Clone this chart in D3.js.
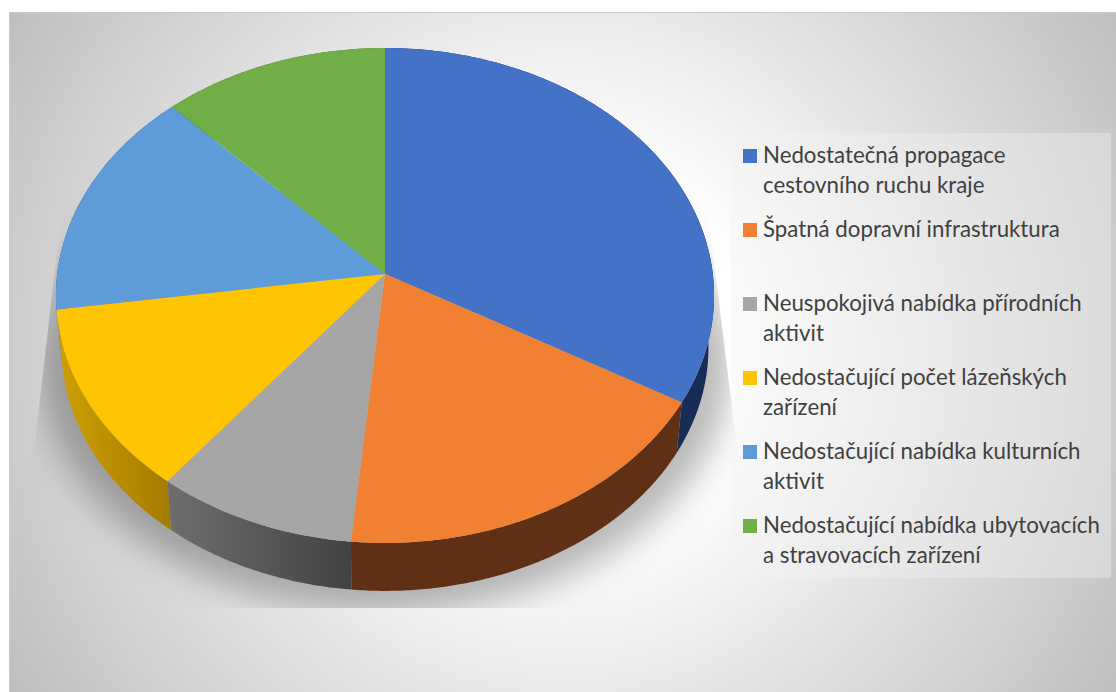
<!DOCTYPE html>
<html>
<head>
<meta charset="utf-8">
<script src="https://cdn.jsdelivr.net/npm/d3@7"></script>
<style>
    html, body { margin: 0; padding: 0; background: #fff; overflow: hidden; }
</style>
</head>
<body>
<div id="chart"></div>
<script>
const categories = [
    ["Nedostatečná propagace", "cestovního ruchu kraje"],
    ["Špatná dopravní infrastruktura"],
    ["Neuspokojivá nabídka přírodních", "aktivit"],
    ["Nedostačující počet lázeňských", "zařízení"],
    ["Nedostačující nabídka kulturních", "aktivit"],
    ["Nedostačující nabídka ubytovacích", "a stravovacích zařízení"]
];
const values = [11, 6, 3, 4, 5, 4];
const topColors = ["#4472c6", "#f28032", "#a6a6a6", "#ffc402", "#5d9cd8", "#72ae48"];
const sideColors = [
    ["#172d55", "#172d55"],
    ["#5f3013", "#5f3013"],
    ["#6e6e6e", "#424242"],
    ["#cfa002", "#a67c00"],
    ["#2c5c88", "#2c5c88"],
    ["#44692b", "#44692b"]
];
// back walls first so the front ones stay on top
const sideOrder = [5, 4, 0, 3, 2, 1];

const width = 1116, height = 692;

const svg = d3.select("#chart")
    .append("svg")
    .attr("width", width)
    .attr("height", height)
    .style("display", "block");

const defs = svg.append("defs");

const bg = defs.append("radialGradient")
    .attr("id", "bg")
    .attr("gradientUnits", "userSpaceOnUse")
    .attr("cx", 565).attr("cy", 350).attr("r", 650);
bg.append("stop").attr("offset", 0.28).attr("stop-color", "#fff");
bg.append("stop").attr("offset", 1).attr("stop-color", "#bfbfbf");

defs.append("filter")
    .attr("id", "blur")
    .attr("filterUnits", "userSpaceOnUse")
    .attr("x", 0).attr("y", 0).attr("width", width).attr("height", height)
    .append("feGaussianBlur")
    .attr("stdDeviation", 17);

// the shadow picture has slanted sides and a hard lower edge
defs.append("clipPath")
    .attr("id", "shadowClip")
    .append("polygon")
    .attr("points", "64,190 705,190 757,608 16,608");

// panel
svg.append("rect")
    .attr("x", 9.5)
    .attr("y", 12.5)
    .attr("width", width)
    .attr("height", height)
    .attr("fill", "url(#bg)")
    .attr("stroke", "#c8c8c8");

// perspective of the tilted disc, disc centre sits above the ellipse centre
const cx = 385, cy = 274, depth = 52.5, shrink = 0.983;
const a = 327.8, b = 245.6, k = 0.0869;

function project(angle, lower) {
    const u = Math.sin(angle), v = -Math.cos(angle);
    const w = 1 - k * v;
    const s = lower ? shrink : 1;
    return [cx + s * a * u / w, cy + (lower ? depth : 0) + s * b * v / w];
}

const line = d3.line();
const arcAngles = d => d3.range(d.startAngle, d.endAngle, Math.PI / 360).concat([d.endAngle]);

const pie = d3.pie().sort(null).value(d => d);
const slices = pie(values);

// shadow
svg.append("g")
    .attr("clip-path", "url(#shadowClip)")
    .append("ellipse")
    .attr("cx", cx)
    .attr("cy", 365)
    .attr("rx", 345)
    .attr("ry", 247)
    .attr("fill", "#000")
    .attr("fill-opacity", 0.28)
    .attr("filter", "url(#blur)");

// side wall
sideOrder.forEach(i => {
    const d = slices[i];
    const pts = arcAngles(d);
    const xs = pts.map(t => project(t, false)[0]);
    const grad = defs.append("linearGradient")
        .attr("id", "side" + i)
        .attr("gradientUnits", "userSpaceOnUse")
        .attr("x1", d3.min(xs)).attr("x2", d3.max(xs))
        .attr("y1", 0).attr("y2", 0);
    grad.append("stop").attr("offset", 0).attr("stop-color", sideColors[i][0]);
    grad.append("stop").attr("offset", 1).attr("stop-color", sideColors[i][1]);

    const outline = pts.map(t => project(t, false))
        .concat(pts.slice().reverse().map(t => project(t, true)));
    svg.append("path")
        .attr("d", line(outline) + "Z")
        .attr("fill", "url(#side" + i + ")");
});

// top face
slices.forEach((d, i) => {
    const outline = [[cx, cy]].concat(arcAngles(d).map(t => project(t, false)));
    svg.append("path")
        .attr("d", line(outline) + "Z")
        .attr("fill", topColors[i]);
});

// legend
const legendX = 743, legendY = 149, legendStep = 74, swatch = 14;

svg.append("rect")
    .attr("x", 731)
    .attr("y", 133)
    .attr("width", 380)
    .attr("height", 445)
    .attr("fill", "#f2f2f2")
    .attr("fill-opacity", 0.39);

categories.forEach((lines, i) => {
    const y = legendY + legendStep * i;
    svg.append("rect")
        .attr("x", legendX)
        .attr("y", y)
        .attr("width", swatch)
        .attr("height", swatch)
        .attr("fill", topColors[i]);

    lines.forEach((t, j) => {
        svg.append("text")
            .attr("x", legendX + 20)
            .attr("y", y + 14 + j * 29.6)
            .attr("font-family", "Lato")
            .attr("font-size", "22.25px")
            .attr("fill", "#404040")
            .text(t);
    });
});
</script>
</body>
</html>
